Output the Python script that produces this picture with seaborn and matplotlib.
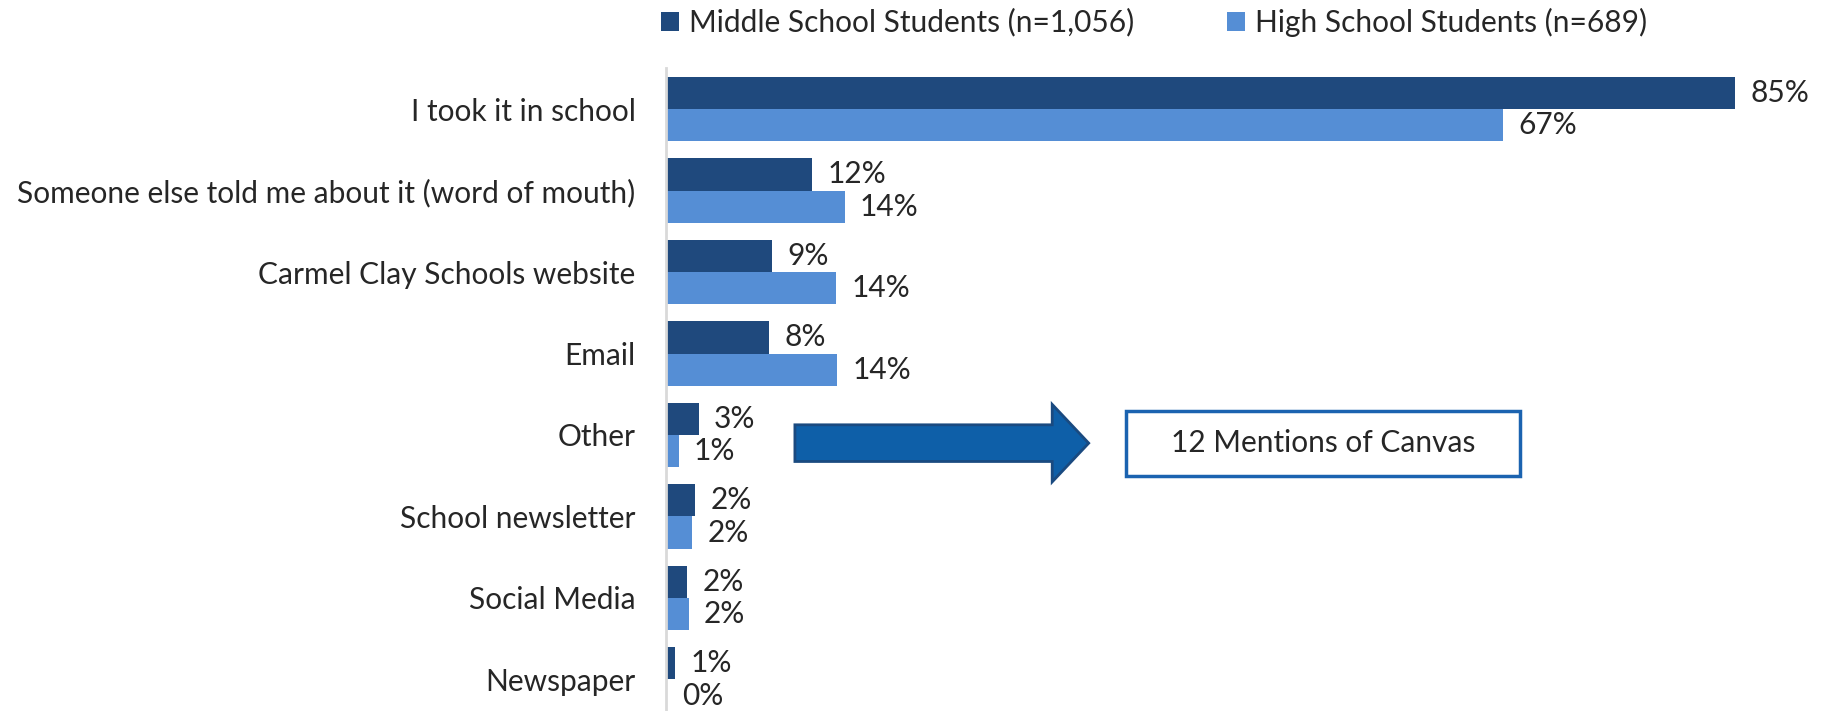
import pandas as pd
import matplotlib.pyplot as plt
import seaborn as sns
from matplotlib.patches import FancyArrow, Rectangle

# data
categories = ['I took it in school', 'Someone else told me about it (word of mouth)',
              'Carmel Clay Schools website', 'Email', 'Other', 'School newsletter',
              'Social Media', 'Newspaper']
middle_vals = [85.0, 11.6, 8.4, 8.2, 2.6, 2.3, 1.7, 0.75]
high_vals = [66.5, 14.2, 13.5, 13.6, 1.0, 2.1, 1.8, 0.1]
middle_labels = [85, 12, 9, 8, 3, 2, 2, 1]
high_labels = [67, 14, 14, 14, 1, 2, 2, 0]
groups = ['Middle School Students (n=1,056)', 'High School Students (n=689)']
colors = ['#1f497d', '#558ed5']

df = pd.DataFrame({
    'source': categories * 2,
    'pct': middle_vals + high_vals,
    'group': [groups[0]] * len(categories) + [groups[1]] * len(categories),
})

sns.set_style('white')
plt.rcParams['font.family'] = ['Lato', 'DejaVu Sans']
fs = 21.5

fig = plt.figure(figsize=(18.26, 7.11), dpi=100)
# bottom row runs slightly past the lower edge, as in the original
ax = fig.add_axes([0.3647, -0.013, 0.6353, 0.917])

sns.barplot(data=df, y='source', x='pct', hue='group', palette=colors,
            orient='h', width=0.79, ax=ax, saturation=1, edgecolor='none')

ax.set_xlim(0, 92.2)
ax.set_ylim(len(categories) - 0.5, -0.5)

# value labels
for cont, labs in zip(ax.containers, [middle_labels, high_labels]):
    ax.bar_label(cont, labels=[f'{v}%' for v in labs], padding=11, fontsize=fs)

ax.set_xlabel('')
ax.set_ylabel('')
ax.set_xticks([])
ax.tick_params(axis='y', length=0, pad=22, labelsize=fs)
for s in ['top', 'right', 'bottom']:
    ax.spines[s].set_visible(False)
ax.spines['left'].set_color('#d9d9d9')
ax.spines['left'].set_linewidth(2)

# legend on top
handles, labels = ax.get_legend_handles_labels()
ax.get_legend().remove()
fig.legend(handles, labels, loc='center', bbox_to_anchor=(0.632, 0.969), ncol=2,
           frameon=False, fontsize=fs, handlelength=0.6, handleheight=0.6,
           handletextpad=0.35, columnspacing=3.1)

# callout arrow and box next to "Other"
arrow = FancyArrow(10.25, 4.1, 23.35, 0, width=0.45, head_width=0.95,
                   head_length=2.9, length_includes_head=True,
                   facecolor='#0e5fa8', edgecolor='#1a4a80', linewidth=2)
ax.add_patch(arrow)
box = Rectangle((36.6, 3.7), 31.3, 0.8, facecolor='white', edgecolor='#1b63b0',
                linewidth=2.5)
ax.add_patch(box)
ax.text(52.25, 4.1, '12 Mentions of Canvas', ha='center', va='center', fontsize=fs)

fig.savefig('out.png', dpi=100)
